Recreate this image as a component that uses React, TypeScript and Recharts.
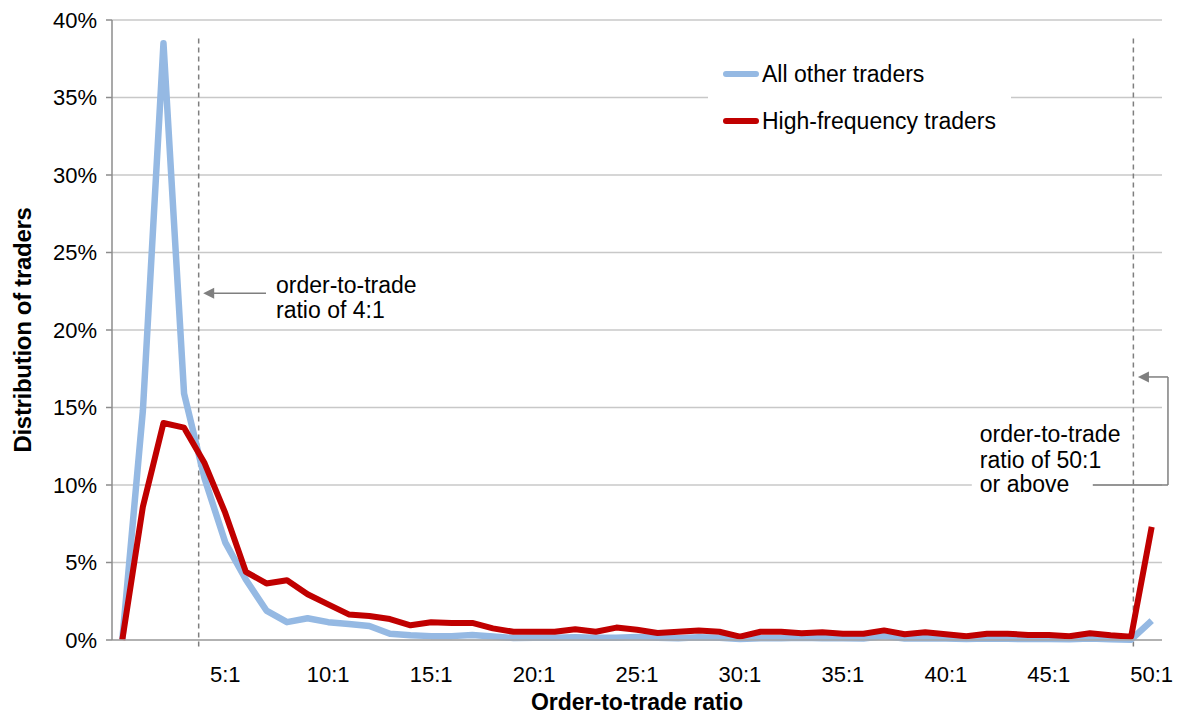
import React from "react";
import { LineChart, Line, XAxis, YAxis, CartesianGrid, ReferenceLine } from "recharts";

const FONT = '"Liberation Sans", Arial, sans-serif';

// order-to-trade ratio buckets (index 50 = "50:1 or above")
const ratioIndex = [
  0, 1, 2, 3, 4, 5, 6, 7, 8, 9, 10, 11, 12, 13, 14, 15, 16, 17, 18, 19, 20, 21, 22, 23, 24, 25,
  26, 27, 28, 29, 30, 31, 32, 33, 34, 35, 36, 37, 38, 39, 40, 41, 42, 43, 44, 45, 46, 47, 48, 49, 50,
];
const otherTraders = [
  0, 14.8, 38.5, 15.9, 10.4, 6.3, 3.9, 1.9, 1.15, 1.4, 1.15, 1.03, 0.9, 0.4, 0.3, 0.25, 0.25, 0.32,
  0.22, 0.13, 0.15, 0.15, 0.18, 0.14, 0.15, 0.2, 0.15, 0.12, 0.18, 0.15, 0.07, 0.12, 0.12, 0.14, 0.12,
  0.12, 0.1, 0.25, 0.1, 0.12, 0.1, 0.06, 0.1, 0.08, 0.06, 0.06, 0.05, 0.1, 0.05, 0.02, 1.25,
];
const hftTraders = [
  0, 8.6, 14.0, 13.7, 11.4, 8.2, 4.4, 3.65, 3.85, 2.95, 2.3, 1.65, 1.55, 1.35, 0.95, 1.15, 1.1, 1.1,
  0.75, 0.53, 0.53, 0.53, 0.7, 0.53, 0.8, 0.66, 0.45, 0.53, 0.62, 0.53, 0.22, 0.53, 0.53, 0.43, 0.5,
  0.4, 0.4, 0.62, 0.37, 0.5, 0.37, 0.24, 0.4, 0.4, 0.33, 0.33, 0.24, 0.43, 0.3, 0.21, 7.3,
];
const xTicks = [5, 10, 15, 20, 25, 30, 35, 40, 45, 50];
const yTicks = [0, 5, 10, 15, 20, 25, 30, 35, 40];

const data = ratioIndex.map((r, i) => ({ r, other: otherTraders[i], hft: hftTraders[i] }));

const BLUE = "#95b9e3";
const RED = "#c00000";
const GREY = "#7f7f7f";

const textStyle = { fontFamily: FONT, fontSize: 23, fill: "#000" };

// arrow pointing at the 4:1 line, with its note
const Note4 = (p: any) => (
  <g>
    <line x1={p.x1} y1={p.y1} x2={p.x2 + 10} y2={p.y2} stroke={GREY} strokeWidth={1.5} />
    <polygon points={`${p.x2},${p.y2} ${p.x2 + 11},${p.y2 - 5.5} ${p.x2 + 11},${p.y2 + 5.5}`} fill={GREY} />
    <text x={p.x1 + 10} y={p.y1} style={textStyle}>order-to-trade</text>
    <text x={p.x1 + 10} y={p.y1 + 25} style={textStyle}>ratio of 4:1</text>
  </g>
);

const ArrowHead = (p: any) => (
  <g>
    <line x1={p.x1 + 10} y1={p.y1} x2={p.x2} y2={p.y2} stroke={GREY} strokeWidth={1.5} />
    <polygon points={`${p.x1},${p.y1} ${p.x1 + 11},${p.y1 - 5.5} ${p.x1 + 11},${p.y1 + 5.5}`} fill={GREY} />
  </g>
);

const Plain = (p: any) => <line x1={p.x1} y1={p.y1} x2={p.x2} y2={p.y2} stroke={GREY} strokeWidth={1.5} />;

// last leg of the connector, ends at the note box
const Note50 = (p: any) => (
  <g>
    <rect x={p.x2 - 121} y={p.y2 - 70} width={121} height={84} fill="#fff" />
    <line x1={p.x1} y1={p.y1} x2={p.x2} y2={p.y2} stroke={GREY} strokeWidth={1.5} />
    <text x={p.x2 - 113} y={p.y2 - 43} style={textStyle}>order-to-trade</text>
    <text x={p.x2 - 113} y={p.y2 - 17} style={textStyle}>ratio of 50:1</text>
    <text x={p.x2 - 113} y={p.y2 + 7} style={textStyle}>or above</text>
  </g>
);

const legendItems = [
  { name: "All other traders", color: BLUE },
  { name: "High-frequency traders", color: RED },
];

export default function App() {
  return (
    <div style={{ position: "absolute", left: 0, top: 0, width: 1180, height: 724, background: "#fff", fontFamily: FONT }}>
      <LineChart width={1180} height={724} data={data} margin={{ top: 20, right: 18, bottom: 0, left: 0 }}>
        <CartesianGrid vertical={false} stroke="#c8c8c8" strokeWidth={1.5} />
        <XAxis
          dataKey="r"
          type="number"
          domain={[-0.5, 50.5]}
          ticks={xTicks}
          tickFormatter={(v) => `${v}:1`}
          height={84}
          tickLine={false}
          tickSize={0}
          tickMargin={26}
          axisLine={{ stroke: "#a6a6a6", strokeWidth: 1.5 }}
          tick={{ fill: "#000", fontSize: 22, fontFamily: FONT }}
          label={{
            value: "Order-to-trade ratio",
            position: "insideBottom",
            offset: 14,
            style: { fontWeight: "bold", fontSize: 23, fill: "#000", fontFamily: FONT },
          }}
        />
        <YAxis
          type="number"
          domain={[0, 40]}
          ticks={yTicks}
          tickFormatter={(v) => `${v}%`}
          width={112}
          tickSize={6}
          tickMargin={9}
          tickLine={{ stroke: "#8c8c8c", strokeWidth: 1.5 }}
          axisLine={{ stroke: "#8c8c8c", strokeWidth: 1.5 }}
          tick={{ fill: "#000", fontSize: 22, fontFamily: FONT }}
          label={{
            value: "Distribution of traders",
            angle: -90,
            position: "insideLeft",
            offset: 22,
            style: { textAnchor: "middle", fontWeight: "bold", fontSize: 24, letterSpacing: -0.3, fill: "#000", fontFamily: FONT },
          }}
        />
        <ReferenceLine
          segment={[{ x: 3.71, y: 38.8 }, { x: 3.71, y: -0.65 }]}
          stroke={GREY}
          strokeWidth={1.5}
          strokeDasharray="5 4"
          ifOverflow="visible"
        />
        <ReferenceLine
          segment={[{ x: 49.11, y: 38.8 }, { x: 49.11, y: -0.65 }]}
          stroke={GREY}
          strokeWidth={1.5}
          strokeDasharray="5 4"
          ifOverflow="visible"
        />
        <ReferenceLine segment={[{ x: 6.98, y: 22.37 }, { x: 3.93, y: 22.37 }]} ifOverflow="visible" shape={Note4} />
        <ReferenceLine segment={[{ x: 49.33, y: 16.97 }, { x: 50.79, y: 16.97 }]} ifOverflow="visible" shape={ArrowHead} />
        <ReferenceLine segment={[{ x: 50.79, y: 16.97 }, { x: 50.79, y: 10 }]} ifOverflow="visible" shape={Plain} />
        <ReferenceLine segment={[{ x: 50.79, y: 10 }, { x: 47.14, y: 10 }]} ifOverflow="visible" shape={Note50} />
        <Line
          dataKey="other"
          stroke={BLUE}
          strokeWidth={6.5}
          dot={false}
          strokeLinejoin="round"
          isAnimationActive={false}
        />
        <Line
          dataKey="hft"
          stroke={RED}
          strokeWidth={6}
          dot={false}
          strokeLinejoin="round"
          isAnimationActive={false}
        />
      </LineChart>
      <div
        style={{
          position: "absolute",
          left: 708,
          top: 50,
          width: 303,
          height: 96,
          background: "#fff",
        }}
      >
        {legendItems.map((it, i) => (
          <div
            key={it.name}
            style={{
              position: "absolute",
              left: 15,
              top: i === 0 ? 10 : 57,
              height: 28,
              display: "flex",
              alignItems: "center",
              whiteSpace: "nowrap",
            }}
          >
            <div style={{ width: 36, height: 6, borderRadius: 3, background: it.color, marginRight: 3 }} />
            <span style={{ fontSize: 23, color: "#000" }}>{it.name}</span>
          </div>
        ))}
      </div>
    </div>
  );
}
